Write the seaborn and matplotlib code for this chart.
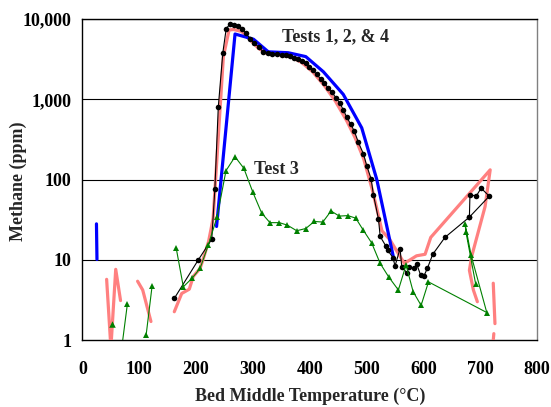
import numpy as np
import pandas as pd
import matplotlib
matplotlib.use("Agg")
import matplotlib.pyplot as plt
import matplotlib.ticker as mticker
import seaborn as sns

# ---- Tests 1, 2 & 4 : black circles (run with markers)
t124_temp = [161.6, 204, 227.5, 233, 239, 247, 253, 260, 267, 273, 281, 288, 295,
             302, 310, 318, 326, 334, 343, 351, 358, 365, 372, 379, 386, 393, 399,
             405, 412, 419, 425, 432, 438.5, 446, 453, 459, 465, 472, 478.5, 485.6,
             494.4, 500.4, 508, 512, 521, 524, 534, 537, 547, 550, 559, 562, 571,
             575, 584, 588, 595, 601, 607, 616.5, 638, 681, 716, 701.6, 693, 682, 681]
t124_ch4 = [3.3, 10.0, 18, 76, 795, 3800, 7600, 8700, 8500, 8200, 7600, 6600, 5700,
            5000, 4500, 3900, 3800, 3700, 3700, 3600, 3550, 3450, 3300, 3150, 3000,
            2800, 2550, 2300, 2050, 1800, 1600, 1400, 1230, 1050, 890, 740, 600, 490,
            400, 290, 210, 148, 102, 65, 32, 19.5, 14.8, 13.2, 10.5, 8.3, 13.8, 8.1,
            6.9, 8.1, 7.8, 8.9, 6.5, 6.3, 7.8, 11.7, 19, 34, 62, 78, 62, 65, 34]

# ---- continuous run (salmon line), split where the record breaks
pink_a_temp = [42.5, 50, 58.5, 67]
pink_a_ch4 = [5.7, 0.8, 7.6, 3.1]
pink_b_temp = [97, 106, 120.5]
pink_b_ch4 = [5.4, 4.2, 1.7]
pink_c_temp = [161.6, 174.6, 188, 195, 207, 213, 222, 230, 248, 258, 266, 280, 295,
               310, 325, 345, 365, 385, 405, 425, 445, 465, 480, 495, 510, 520, 527,
               541, 566.5, 588, 603, 613, 717.6, 708.6, 685, 681, 688, 695]
pink_c_ch4 = [2.25, 3.8, 4.3, 6.2, 7.8, 10.5, 17, 33, 3400, 7300, 7400, 7000, 5500,
              4300, 3700, 3600, 3400, 2900, 2200, 1500, 950, 540, 330, 180, 75, 38, 23,
              17.8, 9.0, 11.2, 11.7, 19, 132, 46, 11, 7.4, 4.2, 3.0]
pink_d_temp = [723, 726]
pink_d_ch4 = [5.1, 1.6]
pink_e_temp = [724, 722.5]
pink_e_ch4 = [1.2, 0.9]

# ---- blue run
blue_a_temp = [24.6, 25.5]
blue_a_ch4 = [28, 10.1]
blue_b_temp = [236, 268.5, 301, 327, 362, 393, 424, 459, 491.5, 518, 547]
blue_b_ch4 = [26, 6500, 5600, 3900, 3800, 3400, 2200, 1150, 440, 100, 11]

# ---- Test 3 : green triangles
t3_single_temp = [51.5]
t3_single_ch4 = [1.58]
t3_b_temp = [70, 79]
t3_b_ch4 = [0.9, 2.8]
t3_c_temp = [112, 122.5]
t3_c_ch4 = [1.15, 4.7]
t3_d_temp = [165, 177.5, 193, 207, 221.5, 237, 252.6, 268.5, 284, 300, 315.5, 330,
             346.5, 360.6, 377, 393, 408, 423, 437.5, 452, 467, 481, 494, 509, 524,
             539, 556, 569.5, 582, 596, 609, 711.6, 684, 673.4, 675, 692]
t3_d_ch4 = [13.9, 4.6, 5.9, 7.8, 15.3, 34.5, 129, 192, 138, 69, 38, 29, 29, 27, 23,
            24.5, 30, 29.5, 40.5, 35, 35.5, 33, 23.5, 16.2, 9.0, 6.1, 4.2, 8.6, 4.0,
            2.7, 5.3, 2.2, 11.4, 28, 22, 5.0]

x_ticks = [0, 100, 200, 300, 400, 500, 600, 700, 800]
y_ticks = [1, 10, 100, 1000, 10000]

sns.set_style("white")
plt.rcParams["font.family"] = ["Liberation Serif", "DejaVu Serif"]
plt.rcParams["font.weight"] = "bold"

fig = plt.figure(figsize=(5.51, 4.07), dpi=100)
ax = fig.add_axes([0.1497, 0.1646, 0.8249, 0.7887])
ax.set_yscale("log")

PINK = "#FF8080"
BLUE = "#0000FF"
GREEN = "#008000"


def run(xs, ys, **kw):
    df = pd.DataFrame({"T": xs, "C": ys})
    sns.lineplot(data=df, x="T", y="C", sort=False, estimator=None, ax=ax, **kw)


for xs, ys in [(pink_a_temp, pink_a_ch4), (pink_b_temp, pink_b_ch4),
               (pink_c_temp, pink_c_ch4), (pink_d_temp, pink_d_ch4),
               (pink_e_temp, pink_e_ch4)]:
    run(xs, ys, color=PINK, linewidth=2.3, zorder=3)

for xs, ys in [(blue_a_temp, blue_a_ch4), (blue_b_temp, blue_b_ch4)]:
    run(xs, ys, color=BLUE, linewidth=2.3, zorder=4)

run(t124_temp, t124_ch4, color="black", linewidth=0.8, marker="o", markersize=4,
    markeredgewidth=0, zorder=5)

for xs, ys in [(t3_b_temp, t3_b_ch4), (t3_c_temp, t3_c_ch4), (t3_d_temp, t3_d_ch4)]:
    run(xs, ys, color=GREEN, linewidth=0.8, marker="^", markersize=4.5,
        markeredgewidth=0, zorder=6)
sns.scatterplot(x=t3_single_temp, y=t3_single_ch4, color=GREEN, marker="^", s=22,
                linewidth=0, ax=ax, zorder=6)

ax.set_xlim(0, 800)
ax.set_ylim(1, 10000)
ax.set_xticks(x_ticks)
ax.xaxis.set_minor_locator(mticker.MultipleLocator(20))
ax.set_yticks(y_ticks)
ax.yaxis.set_major_formatter(mticker.FuncFormatter(lambda v, p: f"{v:,.0f}"))
ax.yaxis.set_minor_locator(mticker.LogLocator(base=10, subs=np.arange(2, 10)))
ax.yaxis.set_minor_formatter(mticker.NullFormatter())

for yv in y_ticks[1:]:
    ax.axhline(yv, color="black", linewidth=0.8, zorder=1)

ax.tick_params(axis="x", which="major", direction="inout", length=9, width=0.8,
               labelsize=13, pad=10.5, colors="black")
ax.tick_params(axis="x", which="minor", direction="out", length=4, width=0.8)
ax.tick_params(axis="y", which="major", direction="inout", length=9, width=0.8,
               labelsize=13, pad=3.5, colors="black")
ax.tick_params(axis="y", which="minor", direction="out", length=4, width=0.8)
for lab in ax.get_xticklabels() + ax.get_yticklabels():
    lab.set_fontweight("bold")

for side in ["left", "bottom", "top"]:
    ax.spines[side].set_color("black")
    ax.spines[side].set_linewidth(1.0)
ax.spines["right"].set_color("#808080")
ax.spines["right"].set_linewidth(1.0)

ax.set_xlabel("Bed Middle Temperature (\u00b0C)", fontsize=13, fontweight="bold")
ax.set_ylabel("Methane (ppm)", fontsize=13, fontweight="bold")
ax.xaxis.set_label_coords(0.5, -0.149)
ax.yaxis.set_label_coords(-0.123, 0.495)

ax.text(446, 6000, "Tests 1, 2, & 4", ha="center", va="center", fontsize=13,
        fontweight="bold")
ax.text(342, 135, "Test 3", ha="center", va="center", fontsize=13,
        fontweight="bold")

fig.savefig("out.png", dpi=100)
